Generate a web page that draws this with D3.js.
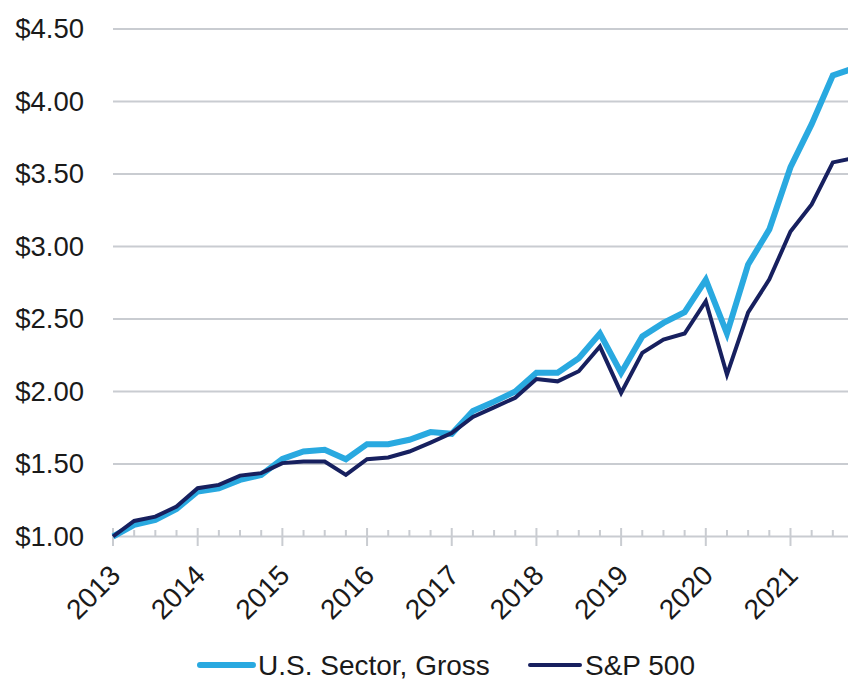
<!DOCTYPE html>
<html>
<head>
<meta charset="utf-8">
<script src="https://cdn.jsdelivr.net/npm/d3@7"></script>
<style>
  html, body { margin: 0; padding: 0; background: #fff; }
  svg { display: block; font-family: "Liberation Sans", Arial, Helvetica, sans-serif; }
</style>
</head>
<body>
<svg id="chart" width="848" height="680"></svg>
<script>
// Quarterly dates (2013.00 .. 2021.75)
const quarters = d3.range(0, 36).map(i => 2013 + i * 0.25);
const seriesNames = ["U.S. Sector, Gross", "S&P 500"];
const usSector = [1.00, 1.08, 1.114, 1.19, 1.31, 1.333, 1.39, 1.425,
                  1.535, 1.586, 1.598, 1.533, 1.637, 1.637, 1.667, 1.72,
                  1.708, 1.865, 1.93, 2.00, 2.13, 2.13, 2.23, 2.40,
                  2.128, 2.38, 2.473, 2.547, 2.77, 2.40, 2.876, 3.118,
                  3.547, 3.844, 4.18, 4.23];
const sp500 = [1.00, 1.107, 1.137, 1.206, 1.333, 1.356, 1.42, 1.437,
               1.506, 1.517, 1.517, 1.425, 1.533, 1.545, 1.586, 1.648,
               1.713, 1.825, 1.89, 1.957, 2.086, 2.07, 2.14, 2.31,
               1.99, 2.266, 2.358, 2.40, 2.623, 2.116, 2.545, 2.773,
               3.104, 3.29, 3.58, 3.61];
const yTicks = [1.0, 1.5, 2.0, 2.5, 3.0, 3.5, 4.0, 4.5];
const yearTicks = [2013, 2014, 2015, 2016, 2017, 2018, 2019, 2020, 2021];
const colors = ["#29a9e0", "#17205f"];

const svg = d3.select("#chart");
const x = d3.scaleLinear().domain([2013, 2021.75]).range([113, 854]);
const y = d3.scaleLinear().domain([1, 4.5]).range([536.5, 29]);

// gridlines
svg.append("g").selectAll("line").data(yTicks.slice(1)).join("line")
  .attr("x1", x(2013)).attr("x2", 848)
  .attr("y1", d => y(d)).attr("y2", d => y(d))
  .attr("stroke", "#c9ccd1").attr("stroke-width", 2);

// y labels
const yAxis = d3.axisLeft(y).tickValues(yTicks).tickSize(0).tickPadding(0)
  .tickFormat(d => "$" + d3.format(".2f")(d));
const gy = svg.append("g").attr("transform", "translate(84,0)").call(yAxis);
gy.select(".domain").remove();
gy.selectAll("text").attr("font-size", 27.5).attr("fill", "#1a1a1a")
  .attr("font-family", "'Liberation Sans', Arial, sans-serif");

// x axis line
svg.append("line").attr("x1", x(2013)).attr("x2", 848)
  .attr("y1", y(1)).attr("y2", y(1))
  .attr("stroke", "#c9ccd1").attr("stroke-width", 2);
// minor ticks
svg.append("g").selectAll("line")
  .data(quarters.filter(q => q % 1 !== 0)).join("line")
  .attr("x1", d => x(d)).attr("x2", d => x(d))
  .attr("y1", 530).attr("y2", y(1))
  .attr("stroke", "#c9ccd1").attr("stroke-width", 2);
// major ticks
svg.append("g").selectAll("line").data(yearTicks).join("line")
  .attr("x1", d => x(d)).attr("x2", d => x(d))
  .attr("y1", 528).attr("y2", 546)
  .attr("stroke", "#c9ccd1").attr("stroke-width", 2);
// year labels
svg.append("g").selectAll("text").data(yearTicks).join("text")
  .attr("transform", d => `translate(${x(d) + 9},577) rotate(-45)`)
  .attr("text-anchor", "end")
  .attr("font-size", 28).attr("fill", "#1a1a1a")
  .text(d => d);

// lines
const line = d3.line().x((d, i) => x(quarters[i])).y(d => y(d));
[usSector, sp500].forEach((s, k) => {
  svg.append("path").datum(s)
    .attr("d", line)
    .attr("fill", "none")
    .attr("stroke", colors[k])
    .attr("stroke-width", k === 0 ? 6 : 4)
    .attr("stroke-linejoin", "miter");
});

// legend
const leg = [
  { x1: 200, x2: 253, tx: 258, w: 6 },
  { x1: 530, x2: 580, tx: 585, w: 4 }
];
leg.forEach((l, k) => {
  svg.append("line").attr("x1", l.x1).attr("x2", l.x2)
    .attr("y1", 665).attr("y2", 665)
    .attr("stroke", colors[k]).attr("stroke-width", l.w)
    .attr("stroke-linecap", "round");
  svg.append("text").attr("x", l.tx).attr("y", 675)
    .attr("font-size", 28).attr("fill", "#1a1a1a")
    .text(seriesNames[k]);
});
</script>
</body>
</html>
